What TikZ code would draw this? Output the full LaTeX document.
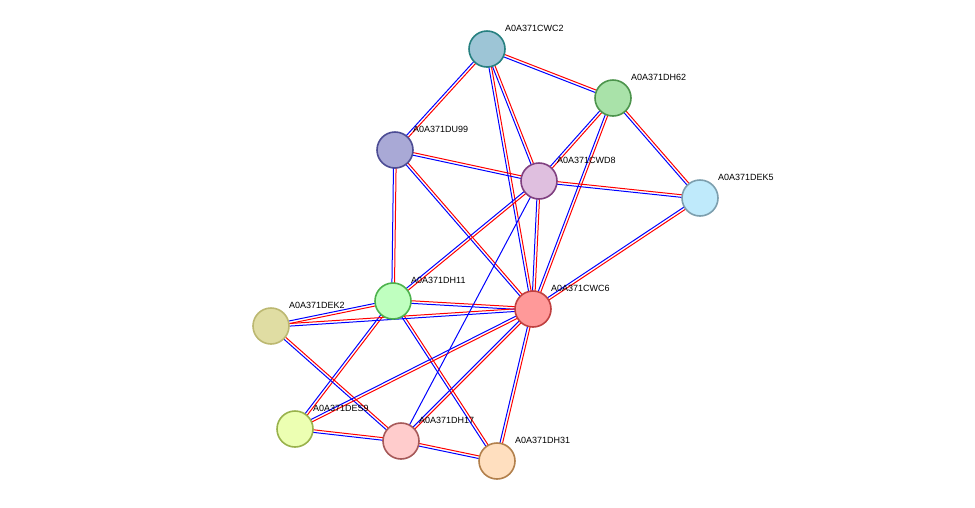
\documentclass[tikz,border=0pt]{standalone}
\usepackage{fontspec}
\setmainfont{Liberation Sans}
\usetikzlibrary{calc}
\begin{document}
\begin{tikzpicture}[x=1pt, y=-1pt,
	prot/.style={circle, draw, line width=1.6pt, minimum size=36pt, inner sep=0pt},
	lbl/.style={anchor=west, font=\fontsize{9}{10}\selectfont, inner sep=0pt}]
	\useasboundingbox (0,0) rectangle (975,507);
	% protein positions
	\foreach \n/\x/\y in {cwctwo/487/49, dhsixtytwo/613/98, duninetynine/395/150, cwdeight/539/181,
		dekfive/700/198, dheleven/393/301, cwcsix/533/309, dektwo/271/326,
		desnine/295/429, dhseventeen/401/441, dhthirtyone/497/461}
	\coordinate (\n) at (\x,\y);
	
	% Draw double edges (red/blue)
	\foreach \a/\b in {cwctwo/duninetynine, cwctwo/dhsixtytwo, cwctwo/cwdeight, cwctwo/cwcsix,
		dhsixtytwo/cwdeight, dhsixtytwo/dekfive, dhsixtytwo/cwcsix,
		duninetynine/cwdeight, duninetynine/dheleven, duninetynine/cwcsix,
		cwdeight/dekfive, cwdeight/dheleven, cwdeight/cwcsix, dekfive/cwcsix,
		dheleven/cwcsix, dheleven/dektwo, dheleven/desnine, dheleven/dhthirtyone,
		dektwo/cwcsix, dektwo/dhseventeen, cwcsix/desnine, cwcsix/dhseventeen,
		cwcsix/dhthirtyone, desnine/dhseventeen, dhseventeen/dhthirtyone}{
		\draw[red, line width=1pt] ($(\a)!1.3pt!90:(\b)$) -- ($(\b)!1.3pt!-90:(\a)$);
		\draw[blue, line width=1pt] ($(\a)!1.3pt!-90:(\b)$) -- ($(\b)!1.3pt!90:(\a)$);
	}
	\draw[blue, line width=1pt] (cwdeight) -- (dhseventeen);
	
	% Draw proteins
	\foreach \n/\f/\d/\t in {cwctwo/{cyan!25!teal!45!white}/{teal!70!gray}/A0A371CWC2,
		dhsixtytwo/{green!50!gray!45!white}/{green!40!black!70}/A0A371DH62,
		duninetynine/{blue!35!gray!50!white}/{blue!40!black!70}/A0A371DU99,
		cwdeight/{violet!25!white}/{violet!50!gray}/A0A371CWD8,
		dekfive/{cyan!25!white}/{cyan!30!gray}/A0A371DEK5,
		dheleven/{green!25!white}/{green!40!gray}/A0A371DH11,
		cwcsix/{red!40!white}/{red!50!gray}/A0A371CWC6,
		dektwo/{yellow!50!gray!55!white}/{yellow!40!gray}/A0A371DEK2,
		desnine/{lime!30!white}/{lime!40!gray}/A0A371DES9,
		dhseventeen/{red!20!white}/{red!30!gray}/A0A371DH17,
		dhthirtyone/{orange!25!white}/{orange!40!gray}/A0A371DH31}{
		\node[prot, fill=\f, draw=\d] (n\n) at (\n) {};
		\node[lbl] (l\n) at ($(\n)+(18,-21)$) {\t};
	}
\end{tikzpicture}
\end{document}
